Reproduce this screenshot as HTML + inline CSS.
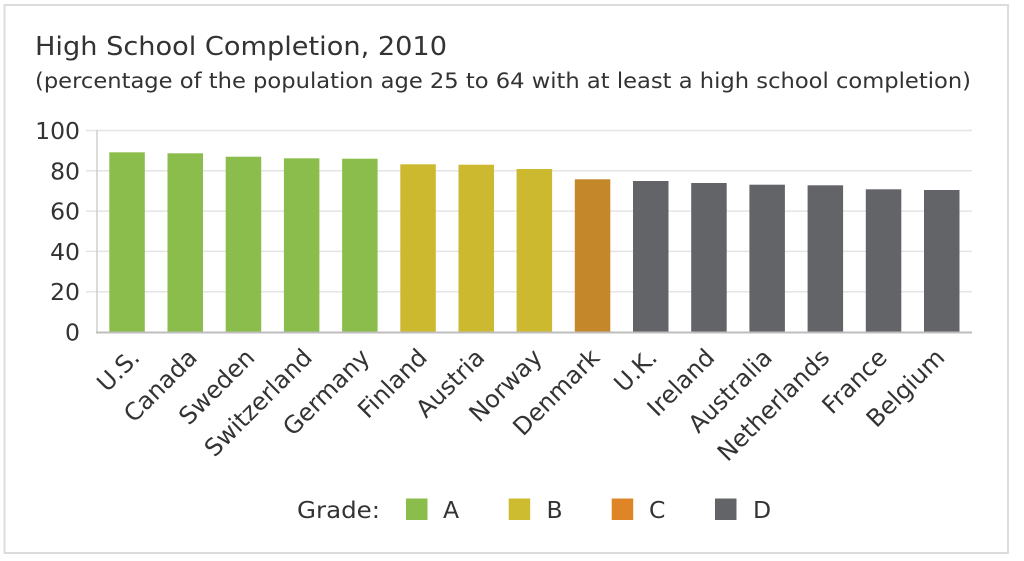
<!DOCTYPE html>
<html>
<head>
<meta charset="utf-8">
<style>
  html,body{margin:0;padding:0;background:#fff;}
  svg{display:block;}
  text{font-family:"DejaVu Sans","Liberation Sans",sans-serif;fill:#333;}
</style>
</head>
<body>
<svg width="1024" height="561" viewBox="0 0 1024 561" xmlns="http://www.w3.org/2000/svg">
  <rect x="0" y="0" width="1024" height="561" fill="#fff"/>
  <rect x="4.5" y="5" width="1003.5" height="548" fill="#fff" stroke="#dcdcdc" stroke-width="2"/>

  <!-- Titles -->
  <text x="35" y="55" font-size="25.5" textLength="412" lengthAdjust="spacingAndGlyphs">High School Completion, 2010</text>
  <text x="35" y="88" font-size="21.5" textLength="936" lengthAdjust="spacingAndGlyphs">(percentage of the population age 25 to 64 with at least a high school completion)</text>

  <!-- Gridlines -->
  <g stroke="#e4e4e4" stroke-width="1.5">
    <line x1="86" y1="130.5" x2="972" y2="130.5"/>
    <line x1="86" y1="170.8" x2="972" y2="170.8"/>
    <line x1="86" y1="211.1" x2="972" y2="211.1"/>
    <line x1="86" y1="251.4" x2="972" y2="251.4"/>
    <line x1="86" y1="291.7" x2="972" y2="291.7"/>
  </g>
  <line x1="97" y1="130" x2="97" y2="332" stroke="#cfcfcf" stroke-width="1.5"/>

  <!-- Y labels -->
  <g font-size="23.5" text-anchor="end">
    <text x="80" y="139">100</text>
    <text x="80" y="179.3">80</text>
    <text x="80" y="219.6">60</text>
    <text x="80" y="259.9">40</text>
    <text x="80" y="300.2">20</text>
    <text x="80" y="340.5">0</text>
  </g>

  <!-- Bars -->
  <g>
    <rect x="109.3" y="152.3" width="35.5" height="179.7" fill="#8bbd4c"/>
    <rect x="167.5" y="153.3" width="35.5" height="178.7" fill="#8bbd4c"/>
    <rect x="225.7" y="156.7" width="35.5" height="175.3" fill="#8bbd4c"/>
    <rect x="283.9" y="158.3" width="35.5" height="173.7" fill="#8bbd4c"/>
    <rect x="342.1" y="158.7" width="35.5" height="173.3" fill="#8bbd4c"/>
    <rect x="400.3" y="164.3" width="35.5" height="167.7" fill="#cdb930"/>
    <rect x="458.5" y="164.7" width="35.5" height="167.3" fill="#cdb930"/>
    <rect x="516.6" y="169" width="35.5" height="163" fill="#cdb930"/>
    <rect x="574.8" y="179.3" width="35.5" height="152.7" fill="#c4872a"/>
    <rect x="633" y="181" width="35.5" height="151" fill="#636468"/>
    <rect x="691.2" y="183" width="35.5" height="149" fill="#636468"/>
    <rect x="749.4" y="184.7" width="35.5" height="147.3" fill="#636468"/>
    <rect x="807.6" y="185.3" width="35.5" height="146.7" fill="#636468"/>
    <rect x="865.8" y="189.3" width="35.5" height="142.7" fill="#636468"/>
    <rect x="924" y="190" width="35.5" height="142" fill="#636468"/>
  </g>

  <line x1="96" y1="332.5" x2="972" y2="332.5" stroke="#bdbdbd" stroke-width="2"/>

  <!-- X labels -->
  <g font-size="24" text-anchor="end">
    <text transform="translate(141,359) rotate(-45)">U.S.</text>
    <text transform="translate(198.5,359) rotate(-45)">Canada</text>
    <text transform="translate(256,359) rotate(-45)">Sweden</text>
    <text transform="translate(313.5,359) rotate(-45)">Switzerland</text>
    <text transform="translate(371,359) rotate(-45)">Germany</text>
    <text transform="translate(428.5,359) rotate(-45)">Finland</text>
    <text transform="translate(486,359) rotate(-45)">Austria</text>
    <text transform="translate(543.5,359) rotate(-45)">Norway</text>
    <text transform="translate(601,359) rotate(-45)">Denmark</text>
    <text transform="translate(658.5,359) rotate(-45)">U.K.</text>
    <text transform="translate(716,359) rotate(-45)">Ireland</text>
    <text transform="translate(773.5,359) rotate(-45)">Australia</text>
    <text transform="translate(831,359) rotate(-45)">Netherlands</text>
    <text transform="translate(888.5,359) rotate(-45)">France</text>
    <text transform="translate(946,359) rotate(-45)">Belgium</text>
  </g>

  <!-- Legend -->
  <g font-size="23.5">
    <text x="297" y="518" textLength="83" lengthAdjust="spacingAndGlyphs">Grade:</text>
    <rect x="406" y="498.5" width="21.5" height="21.5" fill="#8bbd4c"/>
    <text x="443" y="518">A</text>
    <rect x="508.7" y="498.5" width="21.5" height="21.5" fill="#cdbb30"/>
    <text x="546.5" y="518">B</text>
    <rect x="611.7" y="498.5" width="21.5" height="21.5" fill="#dd8527"/>
    <text x="649" y="518">C</text>
    <rect x="715" y="498.5" width="21.5" height="21.5" fill="#636468"/>
    <text x="753" y="518">D</text>
  </g>
</svg>
</body>
</html>
